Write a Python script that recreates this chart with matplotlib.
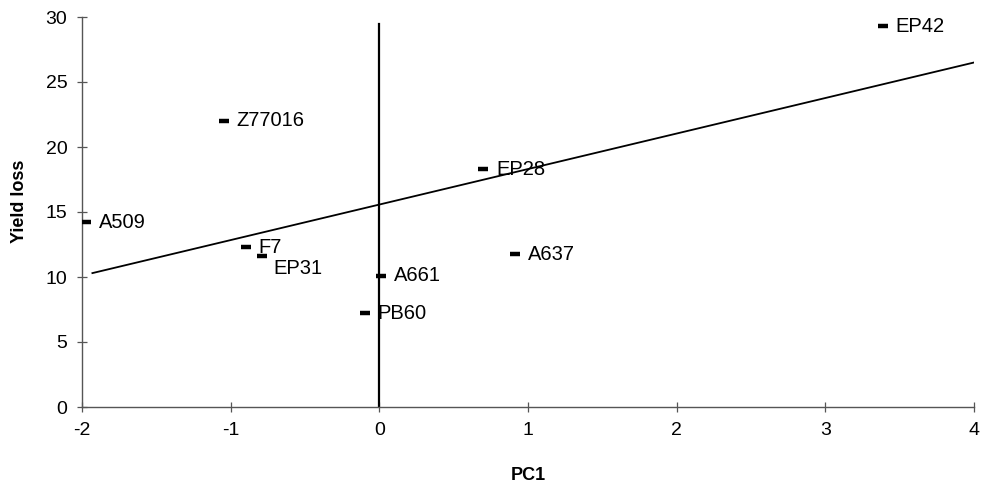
import matplotlib
matplotlib.use("Agg")
import matplotlib.pyplot as plt

plt.rcParams['font.family'] = ['Liberation Sans', 'DejaVu Sans']

names = ["EP42", "Z77016", "EP28", "A509", "F7", "EP31", "A661", "A637", "PB60"]
pc1 = [3.39, -1.045, 0.70, -1.97, -0.90, -0.79, 0.013, 0.915, -0.095]
yield_loss = [29.3, 22.0, 18.3, 14.2, 12.3, 11.6, 10.1, 11.75, 7.2]
# label offsets in points (dx, dy)
label_offsets = {"EP31": (8, -9)}

trend_x = [-1.93, 4.0]
trend_y = [10.3, 26.5]
vline_x = [0.0, 0.0]
vline_y = [0.0, 29.5]

x_ticks = [-2, -1, 0, 1, 2, 3, 4]
y_ticks = [0, 5, 10, 15, 20, 25, 30]

fig = plt.figure(figsize=(9.85, 4.96), dpi=100)
ax = fig.add_axes([82/985, 1-407/496, (974-82)/985, (407-17)/496])

ax.plot(trend_x, trend_y, color='black', lw=1.3, zorder=2)
ax.plot(vline_x, vline_y, color='black', lw=1.6, zorder=2)
ax.plot(pc1, yield_loss, linestyle='none', marker='_', markersize=6.5,
        markeredgewidth=3.2, color='black', zorder=3)

for n, x, y in zip(names, pc1, yield_loss):
    dx, dy = label_offsets.get(n, (9, 0))
    ax.annotate(n, (x, y), xytext=(dx, dy), textcoords='offset points',
                ha='left', va='center', fontsize=14.5, color='black')

ax.set_xlim(-2, 4)
ax.set_ylim(0, 30)
ax.set_xticks(x_ticks)
ax.set_yticks(y_ticks)
ax.set_xticklabels([str(t) for t in x_ticks])
ax.set_yticklabels([str(t) for t in y_ticks])
for s in ['top', 'right']:
    ax.spines[s].set_visible(False)
for s in ['left', 'bottom']:
    ax.spines[s].set_color('#555555')
    ax.spines[s].set_linewidth(1.0)
ax.tick_params(direction='inout', length=7, width=0.9, color='#555555',
               labelsize=14, labelcolor='black')
ax.tick_params(axis='x', pad=7)
ax.tick_params(axis='y', pad=7)

fig.text(528/985, 1-475/496, "PC1", ha='center', va='center',
         fontsize=13, fontweight='bold')
fig.text(19/985, 1-201/496, "Yield loss", ha='center', va='center',
         rotation=90, fontsize=13, fontweight='bold')

fig.savefig("out.png", dpi=100, facecolor='white')
